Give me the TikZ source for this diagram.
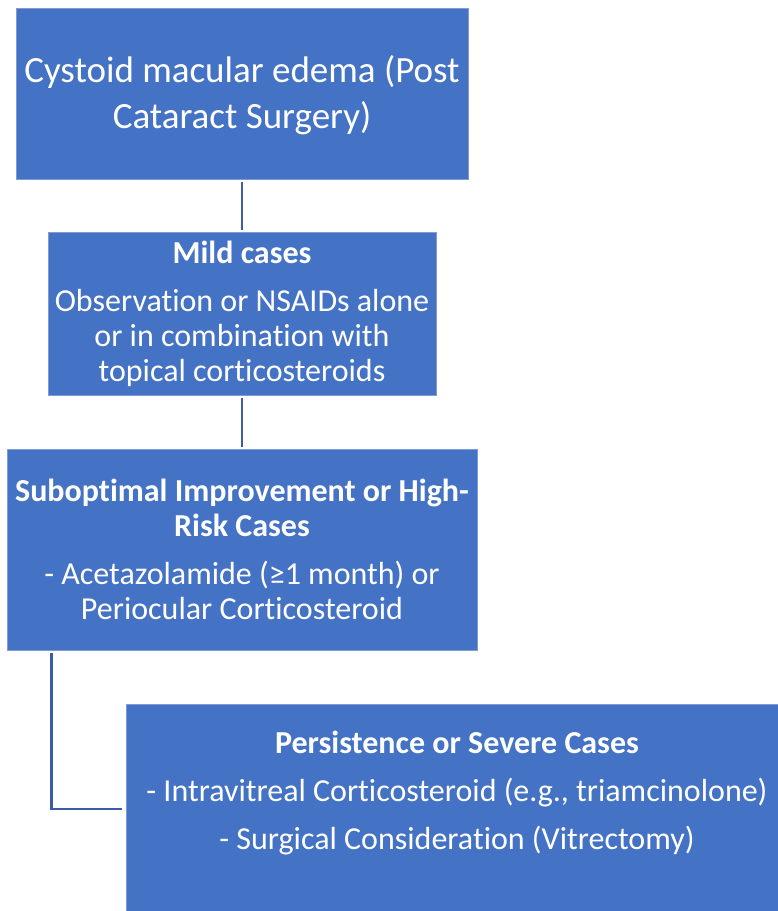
\documentclass[tikz,border=0pt]{standalone}
\usepackage{fontspec}
\setmainfont{Carlito}[Ligatures=NoCommon]
\definecolor{boxblue}{HTML}{4472C4}
\definecolor{boxedge}{HTML}{7F9CD8}
\definecolor{linkblue}{HTML}{3A5DA6}
\tikzset{
  flowbox/.style={rectangle, fill=boxblue, draw=boxedge, line width=0.8pt,
    text=white, align=center, inner sep=0pt,
    font=\fontsize{32}{35}\selectfont},
  boxtext/.style={text=white, align=center, inner sep=0pt,
    font=\fontsize{32}{48}\selectfont},
  link/.style={draw=linkblue, line width=2.6pt}
}
\begin{document}
\begin{tikzpicture}[x=1pt,y=-1pt]
\useasboundingbox (0,0) rectangle (778,911);
\node[flowbox, minimum width=452pt, minimum height=171pt] (b1) at (242,93.5) {};
\node[boxtext, font=\fontsize{37}{46}\selectfont] (t1) at ([yshift=-1.5pt]b1.center)
  {Cystoid macular edema (Post\\Cataract Surgery)};
\node[flowbox, minimum width=388pt, minimum height=163pt] (b2) at (242,313.5)
  {\textbf{Mild cases}\\[13pt]Observation or NSAIDs alone\\or in combination with\\topical corticosteroids};
\node[flowbox, minimum width=470pt, minimum height=201pt] (b3) at (242,549.5)
  {\textbf{Suboptimal Improvement or High-}\\\textbf{Risk Cases}\\[13pt]- Acetazolamide (≥1 month) or\\Periocular Corticosteroid};
\node[flowbox, minimum width=652pt, minimum height=207pt] (b4) at (452,807.5) {};
\node[boxtext] (t4) at ([xshift=5pt,yshift=14pt]b4.center)
  {\textbf{Persistence or Severe Cases}\\- Intravitreal Corticosteroid (e.g., triamcinolone)\\- Surgical Consideration (Vitrectomy)};
\draw[link, shorten <=3pt, shorten >=2pt] (b1.south) -- (b2.north);
\draw[link, shorten <=3pt, shorten >=2pt] (b2.south) -- (b3.north);
\draw[link] ([xshift=45pt,yshift=-3pt]b3.south west) |- ([xshift=-4pt,yshift=-1.5pt]b4.west);
\end{tikzpicture}
\end{document}
